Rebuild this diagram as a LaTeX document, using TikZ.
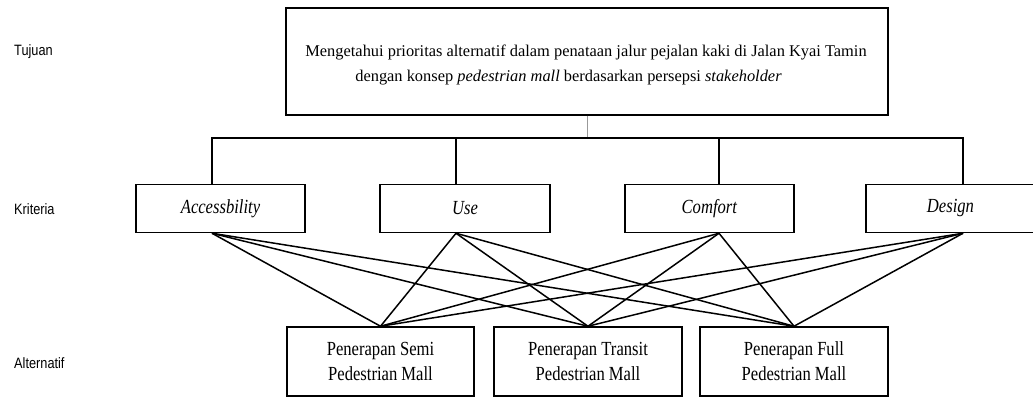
\documentclass[tikz,border=0pt]{standalone}
\usepackage{fontspec}
\setmainfont{Liberation Serif}
\newfontfamily\narrowfont[FakeStretch=0.83]{Liberation Serif}
\newfontfamily\labelfont[FakeStretch=0.85]{Liberation Sans}
\usetikzlibrary{calc}

\tikzset{
	box/.style={draw, line width=1.5pt, inner sep=0pt, align=center, font=\narrowfont\fontsize{20}{25}\selectfont},
	goaltext/.style={inner sep=0pt, align=center, font=\fontsize{16.4}{25}\selectfont},
	lvl/.style={anchor=west, inner sep=0pt, font=\labelfont\fontsize{15}{17}\selectfont},
	link/.style={line width=1.5pt},
}

\begin{document}
\begin{tikzpicture}[x=1pt,y=-1pt]
				\useasboundingbox (0,0) rectangle (1033,398);
				
				\node[lvl] (tujuan) at (14,52) {Tujuan};
				\node[lvl] (kriteria) at (14,209) {Kriteria};
				\node[lvl] (alternatif) at (14,363) {Alternatif};
				
				\node[box, minimum width=602pt, minimum height=107pt] (goal) at (587,61.5) {};
				\node[goaltext] (goallbl) at (586,65) {Mengetahui prioritas alternatif dalam penataan jalur pejalan kaki di Jalan Kyai Tamin\\dengan konsep \textit{pedestrian mall} berdasarkan persepsi \textit{stakeholder}\hspace*{35pt}};
				
				\node[box, minimum width=169pt, minimum height=48pt] (acc) at (220.5,208.5) {\textit{Accessbility}};
				\node[box, minimum width=170pt, minimum height=48pt] (use) at (465,208.5) {\textit{Use}};
				\node[box, minimum width=169pt, minimum height=48pt] (comf) at (709.5,208.5) {\textit{Comfort}};
				\node[box, minimum width=169pt, minimum height=48pt] (des) at (950.5,208.5) {\textit{Design}};
				
				\node[box, minimum width=187pt, minimum height=69pt] (semi) at (380.5,361.5) {Penerapan Semi\\Pedestrian Mall};
				\node[box, minimum width=188pt, minimum height=69pt] (transit) at (588,361.5) {Penerapan Transit\\Pedestrian Mall};
				\node[box, minimum width=188pt, minimum height=69pt] (full) at (794,361.5) {Penerapan Full\\Pedestrian Mall};
				
				\coordinate (bus) at (587,138);
				\coordinate (jacc) at (212,138);
				\coordinate (juse) at (456,138);
				\coordinate (jcomf) at (719,138);
				\coordinate (jdes) at (963,138);
				
				\draw[line width=1pt, black!40] (goal.south) -- (bus);
				\draw[link] (jacc |- acc.north) -- (jacc) -- (jdes) -- (jdes |- des.north);
				\draw[link] (juse) -- (juse |- use.north);
				\draw[link] (jcomf) -- (jcomf |- comf.north);
				
				\foreach \j/\k in {jacc/acc, juse/use, jcomf/comf, jdes/des}
					\foreach \a in {semi, transit, full}
						\draw[link] (\j |- \k.south) -- (\a.north);
\end{tikzpicture}
\end{document}
